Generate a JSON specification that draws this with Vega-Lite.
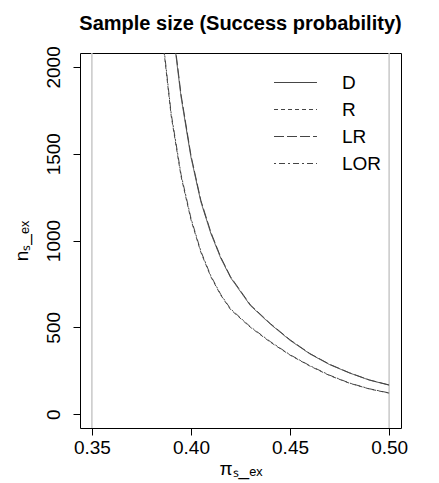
{
  "$schema": "https://vega.github.io/schema/vega-lite/v6.json",
  "autosize": {"type": "none"},
  "width": 321,
  "height": 375,
  "padding": {"left": 80, "top": 53, "right": 38, "bottom": 55},
  "background": "white",
  "title": {
    "text": "Sample size (Success probability)",
    "font": "Liberation Sans",
    "fontSize": 20,
    "fontWeight": "bold",
    "color": "black",
    "anchor": "middle",
    "baseline": "bottom",
    "offset": -8
  },
  "config": {
    "view": {"stroke": "black", "strokeWidth": 1},
    "font": "Liberation Sans",
    "axis": {
      "grid": false,
      "domain": false,
      "tickColor": "black",
      "tickSize": 7,
      "labelColor": "black",
      "titleColor": "black",
      "labelFont": "Liberation Sans",
      "titleFont": "Liberation Sans",
      "labelFontSize": 19,
      "titleFontSize": 19,
      "titleFontWeight": "normal"
    }
  },
  "datasets": {
    "curves": [
      {"p": 0.391, "n": 2201, "method": "D"},
      {"p": 0.395, "n": 1827, "method": "D"},
      {"p": 0.400, "n": 1480, "method": "D"},
      {"p": 0.405, "n": 1223, "method": "D"},
      {"p": 0.410, "n": 1042, "method": "D"},
      {"p": 0.415, "n": 899, "method": "D"},
      {"p": 0.420, "n": 786, "method": "D"},
      {"p": 0.430, "n": 625, "method": "D"},
      {"p": 0.440, "n": 519, "method": "D"},
      {"p": 0.450, "n": 425, "method": "D"},
      {"p": 0.460, "n": 347, "method": "D"},
      {"p": 0.470, "n": 285, "method": "D"},
      {"p": 0.480, "n": 237, "method": "D"},
      {"p": 0.490, "n": 196, "method": "D"},
      {"p": 0.500, "n": 167, "method": "D"},
      {"p": 0.391, "n": 2215, "method": "LR"},
      {"p": 0.395, "n": 1840, "method": "LR"},
      {"p": 0.400, "n": 1490, "method": "LR"},
      {"p": 0.405, "n": 1231, "method": "LR"},
      {"p": 0.410, "n": 1049, "method": "LR"},
      {"p": 0.415, "n": 905, "method": "LR"},
      {"p": 0.420, "n": 791, "method": "LR"},
      {"p": 0.430, "n": 629, "method": "LR"},
      {"p": 0.440, "n": 522, "method": "LR"},
      {"p": 0.450, "n": 428, "method": "LR"},
      {"p": 0.460, "n": 349, "method": "LR"},
      {"p": 0.470, "n": 287, "method": "LR"},
      {"p": 0.480, "n": 238, "method": "LR"},
      {"p": 0.490, "n": 197, "method": "LR"},
      {"p": 0.500, "n": 168, "method": "LR"},
      {"p": 0.386, "n": 2130, "method": "R"},
      {"p": 0.390, "n": 1720, "method": "R"},
      {"p": 0.395, "n": 1370, "method": "R"},
      {"p": 0.400, "n": 1120, "method": "R"},
      {"p": 0.405, "n": 932, "method": "R"},
      {"p": 0.410, "n": 792, "method": "R"},
      {"p": 0.415, "n": 686, "method": "R"},
      {"p": 0.420, "n": 602, "method": "R"},
      {"p": 0.430, "n": 500, "method": "R"},
      {"p": 0.440, "n": 415, "method": "R"},
      {"p": 0.450, "n": 340, "method": "R"},
      {"p": 0.460, "n": 277, "method": "R"},
      {"p": 0.470, "n": 222, "method": "R"},
      {"p": 0.480, "n": 178, "method": "R"},
      {"p": 0.490, "n": 145, "method": "R"},
      {"p": 0.500, "n": 121, "method": "R"},
      {"p": 0.386, "n": 2145, "method": "LOR"},
      {"p": 0.390, "n": 1732, "method": "LOR"},
      {"p": 0.395, "n": 1380, "method": "LOR"},
      {"p": 0.400, "n": 1128, "method": "LOR"},
      {"p": 0.405, "n": 938, "method": "LOR"},
      {"p": 0.410, "n": 797, "method": "LOR"},
      {"p": 0.415, "n": 690, "method": "LOR"},
      {"p": 0.420, "n": 606, "method": "LOR"},
      {"p": 0.430, "n": 503, "method": "LOR"},
      {"p": 0.440, "n": 418, "method": "LOR"},
      {"p": 0.450, "n": 342, "method": "LOR"},
      {"p": 0.460, "n": 279, "method": "LOR"},
      {"p": 0.470, "n": 224, "method": "LOR"},
      {"p": 0.480, "n": 179, "method": "LOR"},
      {"p": 0.490, "n": 146, "method": "LOR"},
      {"p": 0.500, "n": 122, "method": "LOR"}
    ],
    "bounds": [
      {"p": 0.35},
      {"p": 0.50}
    ]
  },
  "layer": [
    {
      "data": {"name": "bounds"},
      "mark": {"type": "rule", "color": "#c8c8c8", "strokeWidth": 1.5},
      "encoding": {
        "x": {"field": "p", "type": "quantitative"}
      }
    },
    {
      "data": {"name": "curves"},
      "mark": {"type": "line", "clip": true, "color": "#444444", "strokeWidth": 1},
      "encoding": {
        "x": {
          "field": "p",
          "type": "quantitative",
          "scale": {"domain": [0.344, 0.506], "nice": false, "zero": false},
          "axis": {
            "values": [0.35, 0.40, 0.45, 0.50],
            "format": ".2f",
            "labelPadding": 3,
            "title": "πₛ_ₑₓ",
            "titlePadding": 2
          }
        },
        "y": {
          "field": "n",
          "type": "quantitative",
          "scale": {"domain": [-80, 2080], "nice": false, "zero": false},
          "axis": {
            "values": [0, 500, 1000, 1500, 2000],
            "format": "d",
            "labelAngle": 270,
            "labelAlign": "center",
            "labelBaseline": "bottom",
            "labelPadding": 10,
            "title": "nₛ_ₑₓ",
            "titlePadding": 13
          }
        },
        "strokeDash": {
          "field": "method",
          "type": "nominal",
          "scale": {
            "domain": ["D", "R", "LR", "LOR"],
            "range": [[1, 0], [4, 3], [10, 3], [2, 3, 6, 3]]
          },
          "legend": {
            "title": null,
            "orient": "none",
            "legendX": 206,
            "legendY": 20,
            "symbolType": "M-3,0H3",
            "symbolSize": 205,
            "symbolStrokeWidth": 1,
            "symbolStrokeColor": "#444444",
            "labelFontSize": 19,
            "labelColor": "black",
            "labelOffset": 37,
            "rowPadding": 7,
            "padding": 0
          }
        }
      }
    }
  ]
}
